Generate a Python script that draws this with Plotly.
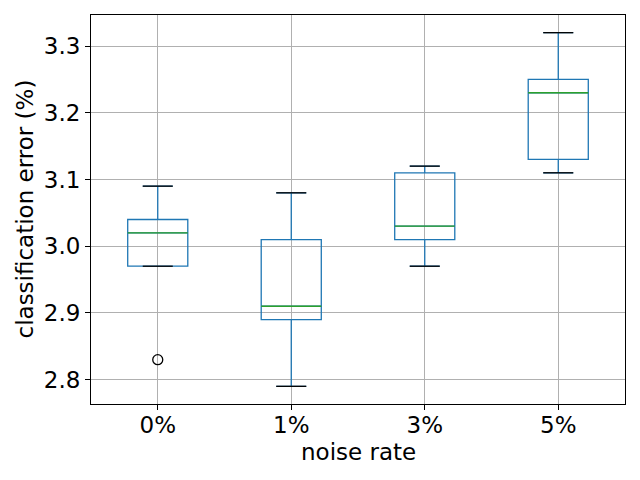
import plotly.graph_objects as go

categories = ["0%", "1%", "3%", "5%"]
lower_whisker = [2.97, 2.79, 2.97, 3.11]
q1 = [2.97, 2.89, 3.01, 3.13]
median = [3.02, 2.91, 3.03, 3.23]
q3 = [3.04, 3.01, 3.11, 3.25]
upper_whisker = [3.09, 3.08, 3.12, 3.32]
outlier_cat = ["0%"]
outlier_val = [2.83]
y_ticks = [2.8, 2.9, 3.0, 3.1, 3.2, 3.3]
x_title = "noise rate"
y_title = "classification error (%)"

positions = [i + 1 for i in range(len(categories))]
pos_of = dict(zip(categories, positions))
box_w = 0.45
cap_half = box_w / 4

fig = go.Figure()
fig.add_trace(go.Box(
    x=positions, q1=q1, median=median, q3=q3,
    lowerfence=lower_whisker, upperfence=upper_whisker,
    width=box_w, whiskerwidth=0.5,
    line=dict(color="#1f77b4", width=1.3),
    fillcolor="rgba(0,0,0,0)", boxpoints=False, showlegend=False,
))

# medians (green)
mx, my = [], []
for p, m in zip(positions, median):
    mx += [p - box_w / 2, p + box_w / 2, None]
    my += [m, m, None]
fig.add_trace(go.Scatter(x=mx, y=my, mode="lines",
                         line=dict(color="#2ca02c", width=1.3), showlegend=False))

# caps (black)
cx, cy = [], []
for p, lo, hi in zip(positions, lower_whisker, upper_whisker):
    cx += [p - cap_half, p + cap_half, None, p - cap_half, p + cap_half, None]
    cy += [lo, lo, None, hi, hi, None]
fig.add_trace(go.Scatter(x=cx, y=cy, mode="lines",
                         line=dict(color="black", width=1.3), showlegend=False))

# outliers
fig.add_trace(go.Scatter(x=[pos_of[c] for c in outlier_cat], y=outlier_val, mode="markers",
                         marker=dict(symbol="circle-open", size=10, color="black",
                                     line=dict(width=1.3, color="black")),
                         showlegend=False))

FS = 23
axis_common = dict(showgrid=True, gridcolor="#b0b0b0", gridwidth=1.1,
                   showline=True, linecolor="black", linewidth=1.1, mirror=True,
                   ticks="outside", ticklen=5, tickwidth=1.1, tickcolor="black",
                   zeroline=False, automargin=False,
                   tickfont=dict(size=FS, color="black"))

fig.update_layout(
    width=640, height=480,
    margin=dict(l=83, r=23, t=7, b=84),
    plot_bgcolor="white", paper_bgcolor="white",
    font=dict(family="DejaVu Sans", size=FS, color="black"),
    xaxis=dict(range=[0.5, 4.5], tickvals=positions, ticktext=categories,
               ticklabelstandoff=-5, **axis_common),
    yaxis=dict(range=[2.7635, 3.3465], tickvals=y_ticks,
               ticktext=[f"{v:.1f}" for v in y_ticks], **axis_common),
    annotations=[
        dict(text=x_title, x=0.5, y=0, xref="paper", yref="paper",
             xanchor="center", yanchor="middle", yshift=-48, showarrow=False,
             font=dict(size=FS)),
        dict(text=y_title, x=0, y=0.5, xref="paper", yref="paper", textangle=-90,
             xanchor="center", yanchor="middle", xshift=-67, showarrow=False,
             font=dict(size=FS)),
    ],
)

fig.write_html("out.html")
